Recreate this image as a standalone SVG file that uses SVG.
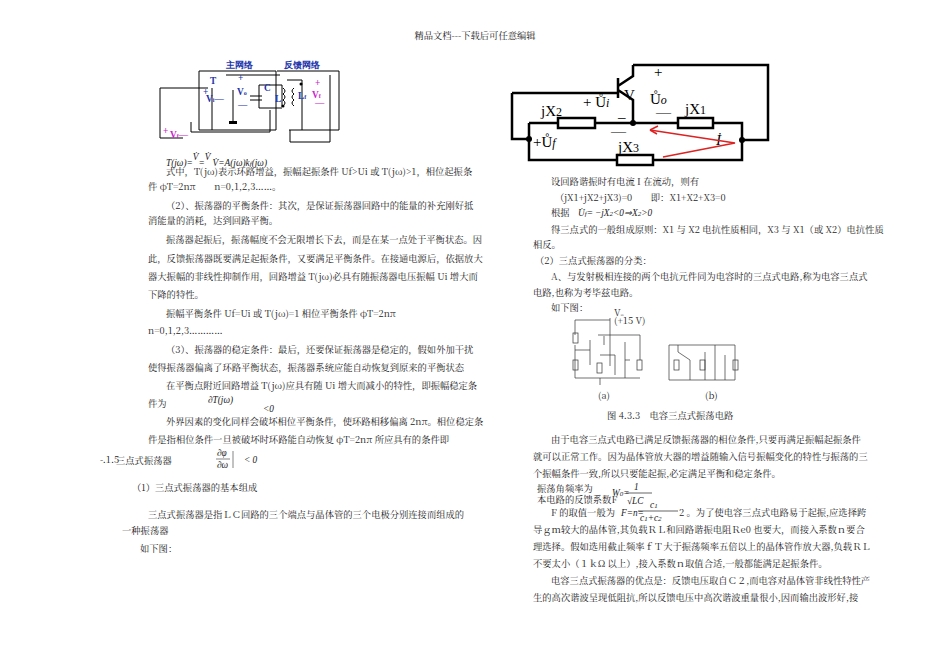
<svg xmlns="http://www.w3.org/2000/svg" width="950" height="672" viewBox="0 0 950 672">
<style>
text{font-family:"Noto Serif CJK SC","Noto Sans CJK SC","Liberation Serif",serif;fill:#222;font-size:9.3px}
.m{font-family:"Liberation Serif",serif;font-style:italic}
.w{stroke:#000;fill:none;stroke-width:1}
.b{stroke:#000;fill:none;stroke-width:2.5}
.blue{fill:#2233aa;font-family:"Liberation Serif",serif;font-weight:bold}
.mag{fill:#cc22cc;font-family:"Liberation Serif",serif;font-weight:bold}
.t{stroke:#333;fill:none;stroke-width:0.7}
.f{font-family:"Liberation Serif",serif;font-size:15px;fill:#000}
</style>
<rect width="950" height="672" fill="#fff"/>
<text x="475" y="39" font-size="6" text-anchor="middle">精品文档---下载后可任意编辑</text>

<g id="fig1">
<text x="226" y="68" class="blue" font-size="10">主网络</text>
<text x="284" y="68" class="blue" font-size="10">反馈网络</text>
<path class="w" d="M199 71H276V130H199Z M212 88V130 M277 71H339V130H289 M226 75H280 M208 88H160V138H183 M233 90V122 M191 122V132H270V110 M259 85H282V107 M259 85V108H282 M290 130V142H330V75 M287 80H302V130"/>
<rect x="229" y="121" width="8" height="3" fill="#000"/>
<text x="210" y="84" class="blue">T</text>
<text x="203" y="95" class="blue">+</text><text x="206" y="102" class="blue">V<tspan font-size="6">i</tspan>—</text>
<text x="238" y="81" class="blue">+</text><text x="237" y="95" class="blue">V<tspan font-size="6">o</tspan></text><text x="238" y="108" class="blue">—</text>
<text x="264" y="91" class="blue">C</text><text x="275" y="102" class="blue">L</text>
<path class="w" d="M250 96h12M250 100h12M283 88q4 3 0 6q4 3 0 6q4 3 0 6M294 88q-4 3 0 6q-4 3 0 6q-4 3 0 6"/>
<circle cx="283" cy="106" r="1.5"/><circle cx="301" cy="84" r="1.5"/>
<text x="298" y="99" class="blue">L<tspan font-size="6">f</tspan></text>
<text x="315" y="86" class="mag" font-size="7">+</text><text x="312" y="98" class="mag">V<tspan font-size="6">f</tspan></text><text x="315" y="106" class="mag">—</text>
<text x="163" y="134" class="mag" font-size="7">+</text><text x="170" y="138" class="mag">V<tspan font-size="6">f</tspan>—</text>
</g>

<g id="fig2">
<path class="b" d="M512 93H618M512 93V139H529 M633 65H768V140H742 M529 123H558M595 123H678M713 123H742V160H653M617 160H529V123 M618 78V98M618 86L633 76V65M618 90L633 100V123"/>
<rect x="558" y="118" width="37" height="10" class="b" fill="#fff"/>
<rect x="678" y="118" width="35" height="10" class="b" fill="#fff"/>
<rect x="617" y="155" width="36" height="10" class="b" fill="#fff"/>
<circle cx="633" cy="123" r="3"/><circle cx="529" cy="139" r="3"/><circle cx="742" cy="140" r="3"/>
<text x="541" y="116" class="f">jX<tspan font-size="12">2</tspan></text>
<text x="685" y="114" class="f">jX<tspan font-size="12">1</tspan></text>
<text x="618" y="152" class="f">jX<tspan font-size="12">3</tspan></text>
<text x="583" y="107" class="f">+ Ů<tspan font-size="12" font-style="italic">i</tspan></text>
<text x="624" y="100" class="f">V</text>
<text x="654" y="77" class="f" font-size="13">+</text>
<text x="650" y="104" class="f">Ů<tspan font-size="12" font-style="italic">o</tspan></text>
<text x="618" y="117" class="f" font-size="12">_</text>
<text x="656" y="117" class="f" font-size="12">—</text>
<text x="611" y="136" class="f" font-size="12">—</text>
<text x="533" y="147" class="f">+Ů<tspan font-size="12" font-style="italic">f</tspan></text>
<text x="716" y="145" class="f" font-size="17" font-style="italic">İ</text>
<path d="M663 157L735 143L650 130" stroke="#d22" fill="none" stroke-width="1.5"/>
<path d="M650 130L658 126M650 130L657 134" stroke="#d22" stroke-width="1.5"/>
</g>

<g id="fig3">
<path class="t" d="M575 320H610M610 318V358M575 320V335M575 345V378M575 350H590M590 340V365M598 335H640V360M604 336V345M600 355H615V375M625 342V378M625 360H630M610 358V366M575 378H640M600 378V385"/>
<rect x="573" y="333" width="5" height="10" class="t"/><rect x="573" y="360" width="5" height="10" class="t"/>
<rect x="597" y="363" width="5" height="10" class="t"/><rect x="637" y="360" width="5" height="10" class="t"/>
<path class="t" d="M669 345H735V380H669Z M678 345V352L690 360V380M705 352V380M715 345V380M725 355V380"/>
<rect x="674" y="360" width="5" height="10" class="t"/><rect x="700" y="360" width="5" height="10" class="t"/><rect x="733" y="360" width="5" height="10" class="t"/>
<text x="614" y="316" font-size="4">V<tspan font-size="3">cc</tspan></text>
<text x="614" y="324" font-size="4">(+15 V)</text>
<text x="598" y="399" font-size="4">(a)</text>
<text x="705" y="399" font-size="4">(b)</text>
<text x="607" y="419" font-size="4.5">图 4.3.3　电容三点式振荡电路</text>
</g>

<g id="left">
<text x="166" y="166" class="m" font-size="10">T(jω)=<tspan dy="-6">V̇</tspan><tspan dy="6">=</tspan><tspan dy="-6">V̇</tspan><tspan dy="6"> V̇</tspan>=A(jω)k<tspan font-size="7">f</tspan>(jω)</text>
<text x="166" y="175">式中，T(jω)表示环路增益，振幅起振条件 Uf&gt;Ui 或 T(jω)&gt;1，相位起振条</text>
<text x="148" y="190">件 φT=2nπ　　n=0,1,2,3……。</text>
<text x="166" y="209">（2）、振荡器的平衡条件：其次，是保证振荡器回路中的能量的补充刚好抵</text>
<text x="148" y="224">消能量的消耗，达到回路平衡。</text>
<text x="166" y="243">振荡器起振后，振荡幅度不会无限增长下去，而是在某一点处于平衡状态。因</text>
<text x="148" y="262">此，反馈振荡器既要满足起振条件，又要满足平衡条件。在接通电源后，依据放大</text>
<text x="148" y="280">器大振幅的非线性抑制作用，回路增益 T(jω)必具有随振荡器电压振幅 Ui 增大而</text>
<text x="148" y="298">下降的特性。</text>
<text x="166" y="317">振幅平衡条件 Uf=Ui 或 T(jω)=1 相位平衡条件 φT=2nπ</text>
<text x="148" y="334">n=0,1,2,3…………</text>
<text x="166" y="353">（3）、振荡器的稳定条件：最后，还要保证振荡器是稳定的，假如外加干扰</text>
<text x="148" y="371">使得振荡器偏离了环路平衡状态，振荡器系统应能自动恢复到原来的平衡状态</text>
<text x="166" y="389">在平衡点附近回路增益 T(jω)应具有随 Ui 增大而减小的特性，即振幅稳定条</text>
<text x="148" y="407">件为</text>
<text x="208" y="403" class="m" font-size="10">∂T(jω)</text>
<text x="263" y="412" class="m" font-size="10">&lt;0</text>
<text x="166" y="425">外界因素的变化同样会破坏相位平衡条件，使环路相移偏离 2nπ。相位稳定条</text>
<text x="148" y="443">件是指相位条件一旦被破坏时环路能自动恢复 φT=2nπ 所应具有的条件即</text>
<text x="100" y="463" font-size="6">-.1.5</text>
<text x="116" y="464" font-size="13">三点式振荡器</text>
<text x="217" y="456" class="m" font-size="9">∂φ</text>
<text x="217" y="468" class="m" font-size="9">∂ω</text>
<line x1="216" y1="459" x2="230" y2="459" stroke="#333" stroke-width="0.6"/>
<line x1="233" y1="451" x2="233" y2="468" stroke="#333" stroke-width="0.6"/>
<text x="244" y="463" class="m" font-size="10">&lt; 0</text>
<text x="132" y="491" font-size="12">（1）三点式振荡器的基本组成</text>
<text x="148" y="518">三点式振荡器是指ＬＣ回路的三个端点与晶体管的三个电极分别连接而组成的</text>
<text x="122" y="534">一种振荡器</text>
<text x="140" y="552">如下图：</text>
</g>

<g id="right">
<text x="551" y="185">设回路谐振时有电流 I 在流动，则有</text>
<text x="555" y="201">（jX1+jX2+jX3)=0　　即：X1+X2+X3=0</text>
<text x="551" y="216">根据</text>
<text x="578" y="216" class="m" font-size="10">U̇<tspan font-size="7">f</tspan>=<tspan dx="2">−jX</tspan><tspan font-size="7">2</tspan>&lt;0⇒<tspan>X</tspan><tspan font-size="7">2</tspan>&gt;0</text>
<text x="551" y="233">得三点式的一般组成原则：X1 与 X2 电抗性质相同，X3 与 X1（或 X2）电抗性质</text>
<text x="533" y="248">相反。</text>
<text x="535" y="264">（2）三点式振荡器的分类：</text>
<text x="551" y="280">A、与发射极相连接的两个电抗元件同为电容时的三点式电路,称为电容三点式</text>
<text x="533" y="296">电路,也称为考毕兹电路。</text>
<text x="551" y="311">如下图：</text>
<text x="551" y="443">由于电容三点式电路已满足反馈振荡器的相位条件,只要再满足振幅起振条件</text>
<text x="533" y="460">就可以正常工作。因为晶体管放大器的增益随输入信号振幅变化的特性与振荡的三</text>
<text x="533" y="477">个振幅条件一致,所以只要能起振,必定满足平衡和稳定条件。</text>
<text x="537" y="492">振荡角频率为</text>
<text x="537" y="503">本电路的反馈系数F</text>
<text x="612" y="496" class="m" font-size="11">W<tspan font-size="7">0</tspan>=</text>
<text x="634" y="490" class="m" font-size="11">1</text>
<line x1="626" y1="493" x2="652" y2="493" stroke="#222" stroke-width="0.7"/>
<text x="627" y="504" class="m" font-size="11">√LC</text>
<text x="621" y="516" class="m" font-size="11">F=n=</text>
<text x="650" y="508" class="m" font-size="10">c<tspan font-size="7">1</tspan></text>
<line x1="638" y1="511" x2="678" y2="511" stroke="#222" stroke-width="0.7"/>
<text x="640" y="521" class="m" font-size="10">c<tspan font-size="7">1</tspan>+c<tspan font-size="7">2</tspan></text>
<text x="551" y="516">F 的取值一般为</text>
<text x="679" y="516">2 。为了使电容三点式电路易于起振,应选择跨</text>
<text x="533" y="533">导ｇｍ较大的晶体管,其负载ＲＬ和回路谐振电阻Ｒe0 也要大，而接入系数ｎ要合</text>
<text x="533" y="550">理选择。假如选用截止频率ｆＴ大于振荡频率五倍以上的晶体管作放大器,负载ＲＬ</text>
<text x="533" y="567">不要太小（１ｋΩ 以上）,接入系数ｎ取值合适,一般都能满足起振条件。</text>
<text x="551" y="584">电容三点式振荡器的优点是：反馈电压取自Ｃ２,而电容对晶体管非线性特性产</text>
<text x="533" y="601">生的高次谐波呈现低阻抗,所以反馈电压中高次谐波重量很小,因而输出波形好,接</text>
</g>
</svg>
